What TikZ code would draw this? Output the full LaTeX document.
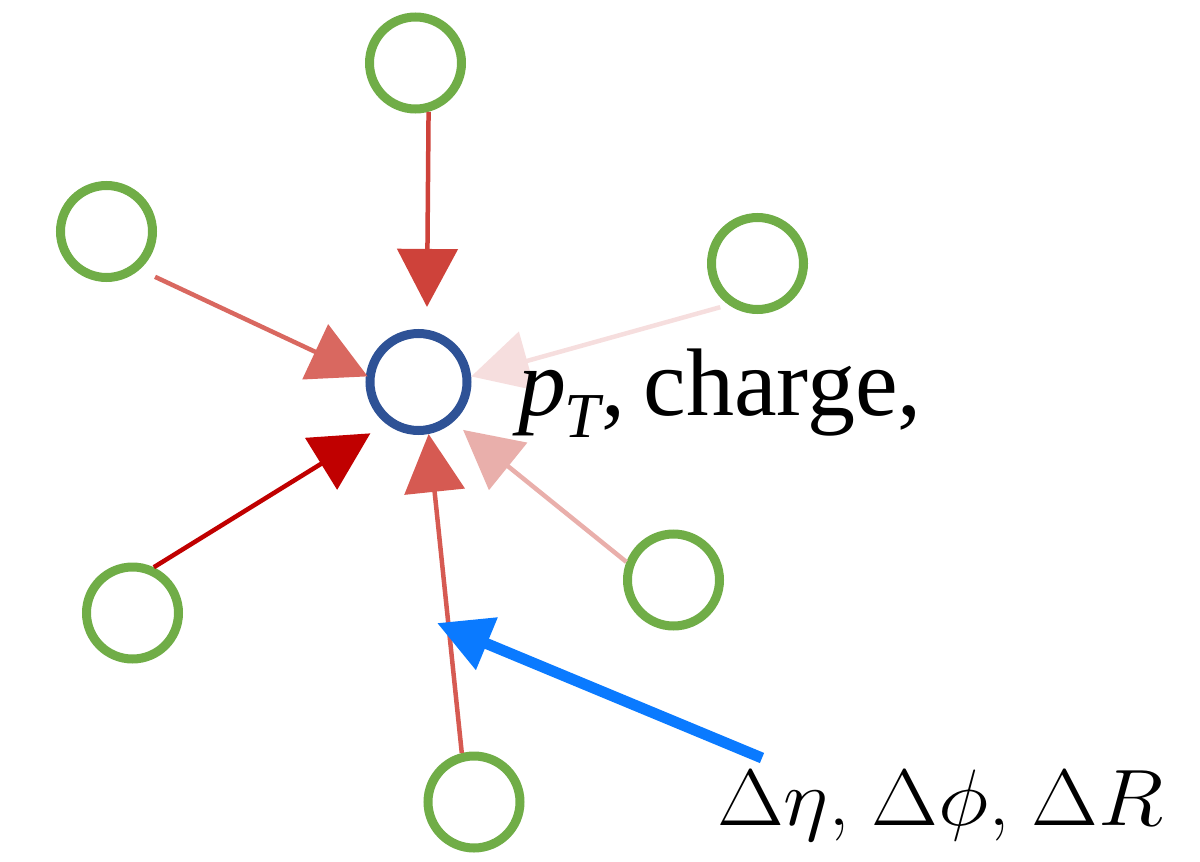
\RequirePackage{fix-cm}
\documentclass[tikz,border=0pt]{standalone}
\usepackage[no-math]{fontspec}
\newfontfamily\labfont{Liberation Serif}
\usetikzlibrary{arrows.meta}
\definecolor{ngreen}{RGB}{112,173,71}
\definecolor{nblue}{RGB}{46,82,150}
\definecolor{aone}{RGB}{206,66,58}
\definecolor{atwo}{RGB}{217,104,96}
\definecolor{athree}{RGB}{246,222,222}
\definecolor{afour}{RGB}{192,0,0}
\definecolor{afive}{RGB}{233,175,171}
\definecolor{asix}{RGB}{214,90,82}
\definecolor{pointer}{RGB}{10,122,255}
\begin{document}
\begin{tikzpicture}[x=1pt,y=-1pt,
  nbr/.style={circle, draw=ngreen, line width=9pt, minimum size=92pt, inner sep=0pt},
  ctr/.style={circle, draw=nblue, line width=9pt, minimum size=97pt, inner sep=0pt},
  msg/.style={line width=4.5pt, -{Triangle[length=58pt,width=60pt]}},
  ptr/.style={draw=pointer, line width=11pt, -{Triangle[length=54pt,width=54pt]}},
  lab/.style={anchor=base west, inner sep=0pt, text=black}]
\useasboundingbox (0,0) rectangle (1200,862);
\node[ctr] (c) at (418.5,382) {};
\node[nbr] (g1) at (415.5,63) {};
\node[nbr] (g2) at (106.5,231.5) {};
\node[nbr] (g3) at (757.5,263.5) {};
\node[nbr] (g4) at (132.5,613) {};
\node[nbr] (g5) at (673.5,580) {};
\node[nbr] (g6) at (474,802) {};
\draw[msg, draw=aone, fill=aone, shorten >=22.7pt] (g1.-75) -- (c.81);
\draw[msg, draw=atwo, fill=atwo, shorten <=17pt, shorten >=-2pt] (g2.-49.2) -- (c.173.5);
\draw[msg, draw=athree, fill=athree, shorten <=8.6pt] (g3.-125.3) -- (c.6.5);
\draw[msg, draw=afour, fill=afour, shorten >=18.2pt] (g4.65.5) -- (c.-128.6);
\draw[msg, draw=afive, fill=afive, shorten >=12.6pt] (g5.159.5) -- (c.-49.1);
\draw[msg, draw=asix, fill=asix] (g6.104.3) -- (c.-79.4);
\coordinate (ptail) at (762,758);
\coordinate (phead) at (437,623);
\draw[ptr] (ptail) -- (phead);
\node[lab, font=\labfont\fontsize{96}{104}\selectfont] (feat) at (518,415)
  {\textit{p}\kern-2pt\raisebox{-22pt}{\fontsize{64}{70}\selectfont\textit{T}}\kern-2pt,\kern18pt charge,};
\node[lab, font=\fontsize{80}{88}\selectfont] (geo) at (717,825)
  {\scalebox{1.08}[1]{$\Delta\eta$,\hspace{20pt}$\Delta\phi$,\hspace{20pt}$\Delta R$}};
\end{tikzpicture}
\end{document}
